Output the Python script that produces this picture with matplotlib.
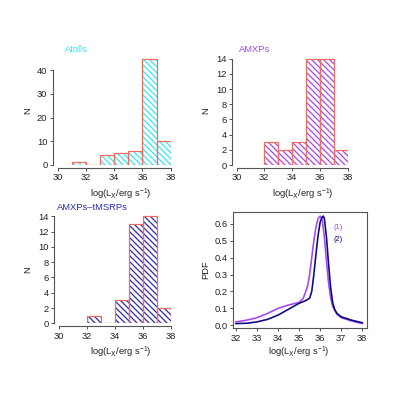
import matplotlib
matplotlib.use("Agg")
import matplotlib.pyplot as plt

# ---------------- data ----------------
atolls_left = [31, 32, 33, 34, 35, 36, 37]
atolls_counts = [1, 0, 4, 5, 6, 45, 10]
amxps_left = [32, 33, 34, 35, 36, 37]
amxps_counts = [3, 2, 3, 14, 14, 2]
tmsrp_left = [32, 33, 34, 35, 36, 37]
tmsrp_counts = [1, 0, 3, 13, 14, 2]

pdf1_x = [32, 32.5, 33, 33.5, 34, 34.5, 35, 35.2, 35.4, 35.5, 35.6, 35.7, 35.8, 35.9,
          36.0, 36.1, 36.2, 36.3, 36.4, 36.5, 36.6, 36.8, 37.0, 37.5, 38]
pdf1_y = [0.02, 0.03, 0.045, 0.07, 0.10, 0.12, 0.135, 0.16, 0.23, 0.30, 0.40, 0.50, 0.58, 0.63,
          0.645, 0.62, 0.52, 0.38, 0.25, 0.16, 0.11, 0.065, 0.045, 0.025, 0.01]
pdf2_x = [32, 32.5, 33, 33.5, 34, 34.5, 35, 35.3, 35.5, 35.6, 35.7, 35.8, 35.9, 36.0,
          36.1, 36.15, 36.2, 36.3, 36.4, 36.5, 36.6, 36.7, 36.8, 37.0, 37.5, 38]
pdf2_y = [0.01, 0.012, 0.02, 0.035, 0.06, 0.095, 0.13, 0.145, 0.16, 0.20, 0.30, 0.42, 0.53, 0.61,
          0.64, 0.645, 0.63, 0.52, 0.36, 0.22, 0.13, 0.09, 0.07, 0.05, 0.03, 0.015]

xticks_hist = [30, 32, 34, 36, 38]
# ---------------- style ----------------
DPI = 90
W = 395
plt.rcParams['font.family'] = ['Liberation Sans', 'DejaVu Sans']
plt.rcParams['mathtext.default'] = 'regular'
plt.rcParams['hatch.linewidth'] = 1.0
FS = 7.5
GRAY = '#555555'
TXT = '#222222'
EDGE = '#EE6E5E'
CYAN = '#33E6FF'
PURPLE = '#A845F5'
NAVY = '#2B2BB0'
DARK = '#0A0A80'
HATCH = chr(92) * 5

fig = plt.figure(figsize=(W / DPI, W / DPI), dpi=DPI)


def add_ax(l, r, t, b):
    return fig.add_axes([l / W, 1 - b / W, (r - l) / W, (b - t) / W])


def style_hist(ax, ymax, yticks):
    ax.set_xlim(30, 38)
    ax.set_ylim(0, ymax)
    for s in ['top', 'right']:
        ax.spines[s].set_visible(False)
    ax.spines['left'].set_position(('outward', 3.5))
    ax.spines['bottom'].set_position(('outward', 2.2))
    ax.spines['left'].set_bounds(yticks[0], yticks[-1])
    ax.spines['bottom'].set_bounds(30, 38)
    for s in ['left', 'bottom']:
        ax.spines[s].set_color(GRAY)
        ax.spines[s].set_linewidth(0.9)
    ax.set_xticks(xticks_hist)
    ax.set_yticks(yticks)
    ax.tick_params(colors=GRAY, labelcolor=TXT, labelsize=FS, length=2.5, width=0.8, pad=2)
    ax.patch.set_alpha(0)


def draw_hist(ax, lefts, counts, color):
    ax.bar(lefts, counts, width=1, align='edge', color='none', edgecolor=color,
           linewidth=0, hatch=HATCH)
    ax.bar(lefts, counts, width=1, align='edge', fill=False, edgecolor=EDGE, linewidth=1.0)


xlab = r'log(L$_{\rm X}$/erg s$^{-1}$)'

# panel 1: Atolls
ax1 = add_ax(57.5, 170.7, 53.8, 164.8)
draw_hist(ax1, atolls_left, atolls_counts, CYAN)
style_hist(ax1, 47, [0, 10, 20, 30, 40])
fig.text(65 / W, 1 - 49 / W, 'Atolls', color=CYAN, fontsize=FS, ha='left', va='center')
fig.text(28 / W, 1 - 111 / W, 'N', rotation=90, fontsize=FS, color=TXT, ha='center', va='center')
fig.text(121 / W, 1 - 194 / W, xlab, fontsize=FS, color=TXT, ha='center', va='center')

# panel 2: AMXPs
ax2 = add_ax(236.5, 347.7, 52.7, 165.0)
draw_hist(ax2, amxps_left, amxps_counts, PURPLE)
style_hist(ax2, 14.8, [0, 2, 4, 6, 8, 10, 12, 14])
fig.text(239 / W, 1 - 49 / W, 'AMXPs', color=PURPLE, fontsize=FS, ha='left', va='center')
fig.text(206 / W, 1 - 111 / W, 'N', rotation=90, fontsize=FS, color=TXT, ha='center', va='center')
fig.text(303 / W, 1 - 194 / W, xlab, fontsize=FS, color=TXT, ha='center', va='center')

# panel 3: AMXPs-tMSRPs
ax3 = add_ax(58.5, 170.7, 210.2, 323.3)
draw_hist(ax3, tmsrp_left, tmsrp_counts, NAVY)
style_hist(ax3, 14.8, [0, 2, 4, 6, 8, 10, 12, 14])
fig.text(57 / W, 1 - 207 / W, 'AMXPs\u2013tMSRPs', color=NAVY, fontsize=FS, ha='left', va='center')
fig.text(28 / W, 1 - 270 / W, 'N', rotation=90, fontsize=FS, color=TXT, ha='center', va='center')
fig.text(121 / W, 1 - 352 / W, xlab, fontsize=FS, color=TXT, ha='center', va='center')

# panel 4: PDF
ax4 = add_ax(233, 366.7, 211.7, 328)
ax4.plot(pdf1_x, pdf1_y, color=PURPLE, lw=1.3)
ax4.plot(pdf2_x, pdf2_y, color=DARK, lw=1.3)
ax4.set_xlim(31.86, 38.21)
ax4.set_ylim(-0.016, 0.671)
ax4.set_xticks([32, 33, 34, 35, 36, 37, 38])
ax4.set_yticks([0.0, 0.1, 0.2, 0.3, 0.4, 0.5, 0.6])
ax4.set_yticklabels(['0.0', '0.1', '0.2', '0.3', '0.4', '0.5', '0.6'])
for s in ax4.spines.values():
    s.set_color(GRAY)
    s.set_linewidth(0.9)
ax4.tick_params(colors=GRAY, labelcolor=TXT, labelsize=FS, length=2.5, width=0.8, pad=2)
ax4.text(36.83, 0.579, '(1)', color=PURPLE, fontsize=FS - 1.5, ha='center', va='center')
ax4.text(36.83, 0.508, '(2)', color=DARK, fontsize=FS - 1.5, ha='center', va='center')
fig.text(206 / W, 1 - 270 / W, 'PDF', rotation=90, fontsize=FS, color=TXT, ha='center', va='center')
fig.text(299 / W, 1 - 352 / W, xlab, fontsize=FS, color=TXT, ha='center', va='center')

fig.savefig('out.png', dpi=DPI)
